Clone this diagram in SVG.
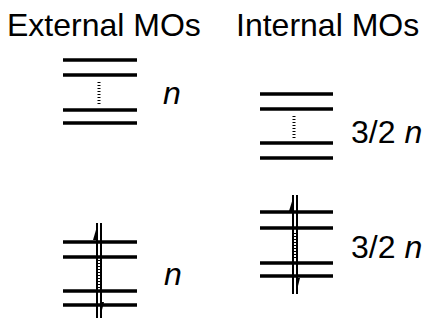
<svg xmlns="http://www.w3.org/2000/svg" width="425" height="321" viewBox="0 0 425 321">
<style>
text{font-family:"Liberation Sans",Arial,sans-serif;font-size:32px;fill:#000}
.it{font-style:italic}
.lvl{stroke:#000;stroke-width:3.5;fill:none}
.dot{stroke:#000;stroke-width:3;stroke-dasharray:1,2;fill:none}
.spin{stroke:#000;stroke-width:2;fill:none}
.dot2{stroke:#000;stroke-width:2;stroke-dasharray:1,2;fill:none}
.barb{fill:#000;stroke:none}
</style>
<g id="title-external"><text x="7" y="36">External MOs</text></g>
<g id="title-internal"><text x="236" y="36">Internal MOs</text></g>
<g id="ext-upper">
<line class="lvl" x1="63" y1="60" x2="137" y2="60"/>
<line class="lvl" x1="63" y1="75" x2="137" y2="75"/>
<line class="lvl" x1="63" y1="110" x2="137" y2="110"/>
<line class="lvl" x1="63" y1="123" x2="137" y2="123"/>
<line class="dot" x1="99" y1="82" x2="99" y2="104"/>
<text class="it" x="163" y="104">n</text>
</g>
<g id="int-upper">
<line class="lvl" x1="260" y1="94" x2="333" y2="94"/>
<line class="lvl" x1="260" y1="109" x2="333" y2="109"/>
<line class="lvl" x1="260" y1="143" x2="333" y2="143"/>
<line class="lvl" x1="260" y1="158" x2="333" y2="158"/>
<line class="dot" x1="294" y1="116" x2="294" y2="138"/>
<text x="351" y="143">3/2 <tspan class="it">n</tspan></text>
</g>
<g id="ext-lower">
<line class="lvl" x1="63" y1="242" x2="137" y2="242"/>
<line class="lvl" x1="63" y1="257" x2="137" y2="257"/>
<line class="lvl" x1="63" y1="291" x2="137" y2="291"/>
<line class="lvl" x1="63" y1="305" x2="137" y2="305"/>
<text class="it" x="164" y="285">n</text>
</g>
<g id="int-lower">
<line class="lvl" x1="260" y1="212" x2="333" y2="212"/>
<line class="lvl" x1="260" y1="228" x2="333" y2="228"/>
<line class="lvl" x1="260" y1="263" x2="333" y2="263"/>
<line class="lvl" x1="260" y1="276" x2="333" y2="276"/>
<text x="351" y="258">3/2 <tspan class="it">n</tspan></text>
</g>
<g id="connectors">
<line class="spin" x1="97" y1="223" x2="97" y2="318"/>
<line class="spin" x1="101" y1="223" x2="101" y2="318"/>
<line class="dot2" x1="99" y1="260" x2="99" y2="288"/>
<path class="barb" d="M98,223 L98,240 L93,240 Z"/>
<path class="barb" d="M100,318 L100,302 L104,302 Z"/>
<line class="spin" x1="293" y1="195" x2="293" y2="294"/>
<line class="spin" x1="297" y1="195" x2="297" y2="294"/>
<line class="dot2" x1="295" y1="233" x2="295" y2="258"/>
<path class="barb" d="M294,195 L294,211 L289,211 Z"/>
<path class="barb" d="M296,294 L296,278 L300,278 Z"/>
</g>
</svg>
